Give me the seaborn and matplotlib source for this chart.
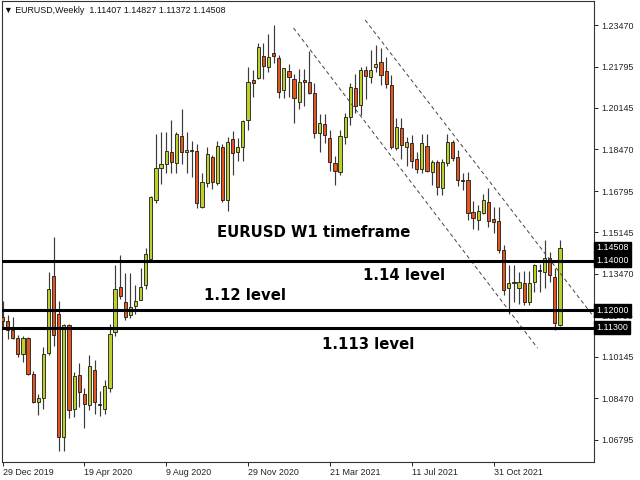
import numpy as np
import pandas as pd
import seaborn as sns
import matplotlib.pyplot as plt
import matplotlib.transforms as mtransforms

# weekly EURUSD candles, 29 Dec 2019 .. 30 Jan 2022
weeks = pd.date_range('2019-12-29', periods=110, freq='7D')

opens = [1.1175, 1.1158, 1.1121, 1.1090, 1.1025, 1.1090, 1.0944, 1.0830, 1.0847, 1.1030,
         1.1340, 1.1185, 1.0693, 1.1141, 1.0805, 1.0940, 1.0864, 1.0820, 1.0960, 1.0823,
         1.0803, 1.0888, 1.1112, 1.1294, 1.1234, 1.1182, 1.1218, 1.1242, 1.1302, 1.1407,
         1.1644, 1.1772, 1.1788, 1.1837, 1.1792, 1.1901, 1.1838, 1.1846, 1.1841, 1.1616,
         1.1712, 1.1816, 1.1712, 1.1857, 1.1644, 1.1889, 1.1837, 1.1857, 1.1965, 1.2126,
         1.2134, 1.2222, 1.2178, 1.2234, 1.2214, 1.2086, 1.2162, 1.2130, 1.2038, 1.2126,
         1.2118, 1.2074, 1.1913, 1.1949, 1.1893, 1.1792, 1.1756, 1.1897, 1.1977, 1.2094,
         1.2025, 1.2166, 1.2138, 1.2178, 1.2198, 1.2162, 1.2106, 1.1853, 1.1933, 1.1857,
         1.1873, 1.1808, 1.1768, 1.1861, 1.1756, 1.1796, 1.1692, 1.1792, 1.1877, 1.1816,
         1.1724, 1.1724, 1.1595, 1.1563, 1.1591, 1.1636, 1.1567, 1.1559, 1.1442, 1.1290,
         1.1310, 1.1290, 1.1310, 1.1234, 1.1314, 1.1364, 1.1354, 1.1410, 1.1334, 1.11407]
highs = [1.1239, 1.1180, 1.1173, 1.1100, 1.1096, 1.1095, 1.0956, 1.0865, 1.1053, 1.1355,
         1.1496, 1.1237, 1.1147, 1.1147, 1.0953, 1.0990, 1.0890, 1.1019, 1.1000, 1.0875,
         1.0920, 1.1147, 1.1384, 1.1422, 1.1350, 1.1349, 1.1303, 1.1372, 1.1452, 1.1660,
         1.1908, 1.1916, 1.1916, 1.1966, 1.1917, 1.2011, 1.1917, 1.1882, 1.1870, 1.1754,
         1.1857, 1.1825, 1.1881, 1.1870, 1.1897, 1.1921, 1.1893, 1.1965, 1.2177, 1.2167,
         1.2273, 1.2273, 1.2310, 1.2349, 1.2225, 1.2175, 1.2190, 1.2150, 1.2170, 1.2169,
         1.2243, 1.2114, 1.1990, 1.1989, 1.1925, 1.1820, 1.1927, 1.1995, 1.2115, 1.2150,
         1.2178, 1.2183, 1.2245, 1.2265, 1.2255, 1.2218, 1.2145, 1.1975, 1.1975, 1.1897,
         1.1905, 1.1835, 1.1909, 1.1908, 1.1805, 1.1805, 1.1810, 1.1909, 1.1885, 1.1845,
         1.1753, 1.1755, 1.1640, 1.1624, 1.1668, 1.1692, 1.1616, 1.1616, 1.1464, 1.1382,
         1.1383, 1.1355, 1.1360, 1.1360, 1.1386, 1.1385, 1.1483, 1.1436, 1.1370, 1.14827]
lows = [1.1125, 1.1085, 1.1086, 1.1014, 1.0992, 1.0940, 1.0827, 1.0778, 1.0805, 1.1020,
        1.1055, 1.0636, 1.0636, 1.0768, 1.0770, 1.0812, 1.0727, 1.0800, 1.0782, 1.0775,
        1.0783, 1.0870, 1.1096, 1.1245, 1.1160, 1.1168, 1.1185, 1.1240, 1.1285, 1.1400,
        1.1630, 1.1707, 1.1753, 1.1753, 1.1754, 1.1789, 1.1753, 1.1737, 1.1612, 1.1612,
        1.1697, 1.1689, 1.1703, 1.1636, 1.1600, 1.1745, 1.1800, 1.1801, 1.1925, 1.2058,
        1.2128, 1.2130, 1.2160, 1.2194, 1.2054, 1.2054, 1.2058, 1.1952, 1.2010, 1.2023,
        1.2070, 1.1894, 1.1835, 1.1873, 1.1762, 1.1704, 1.1743, 1.1870, 1.1944, 1.1995,
        1.1986, 1.2051, 1.2115, 1.2160, 1.2104, 1.2094, 1.1847, 1.1845, 1.1807, 1.1780,
        1.1772, 1.1752, 1.1752, 1.1755, 1.1705, 1.1664, 1.1665, 1.1780, 1.1802, 1.1700,
        1.1684, 1.1563, 1.1529, 1.1524, 1.1586, 1.1535, 1.1513, 1.1432, 1.1263, 1.1186,
        1.1235, 1.1227, 1.1222, 1.1222, 1.1274, 1.1272, 1.1290, 1.1315, 1.1121, 1.11372]
closes = [1.1158, 1.1121, 1.1090, 1.1025, 1.1090, 1.0944, 1.0830, 1.0847, 1.1026, 1.1284,
          1.1101, 1.0693, 1.1141, 1.0800, 1.0935, 1.0872, 1.0824, 1.0976, 1.0832, 1.0819,
          1.0896, 1.1105, 1.1286, 1.1258, 1.1174, 1.1214, 1.1238, 1.1294, 1.1427, 1.1656,
          1.1772, 1.1788, 1.1841, 1.1796, 1.1909, 1.1837, 1.1846, 1.1840, 1.1631, 1.1716,
          1.1830, 1.1716, 1.1861, 1.1644, 1.1877, 1.1833, 1.1857, 1.1961, 1.2118, 1.2114,
          1.2259, 1.2182, 1.2218, 1.2222, 1.2078, 1.2174, 1.2138, 1.2054, 1.2118, 1.2118,
          1.2074, 1.1913, 1.1953, 1.1905, 1.1796, 1.1760, 1.1901, 1.1977, 1.2098, 1.2021,
          1.2166, 1.2142, 1.2166, 1.2190, 1.2146, 1.2110, 1.1857, 1.1937, 1.1865, 1.1877,
          1.1800, 1.1768, 1.1873, 1.1760, 1.1796, 1.1696, 1.1796, 1.1877, 1.1812, 1.1724,
          1.1720, 1.1591, 1.1571, 1.1599, 1.1644, 1.1559, 1.1555, 1.1442, 1.1282, 1.1310,
          1.1313, 1.1314, 1.1234, 1.1310, 1.1382, 1.1360, 1.1410, 1.1342, 1.1149, 1.14508]

levels = [1.14, 1.12, 1.113]
level_tags = ['1.14000', '1.12000', '1.11300']
last_price = 1.14508
price_ticks = [1.23470, 1.21795, 1.20145, 1.18470, 1.16795, 1.15145,
               1.13470, 1.11795, 1.10145, 1.08470, 1.06795]
date_ticks = ['29 Dec 2019', '19 Apr 2020', '9 Aug 2020', '29 Nov 2020',
              '21 Mar 2021', '11 Jul 2021', '31 Oct 2021']

# trend channel (start/end in candle index and price)
chan_upper_x = [70.9, 115.8]
chan_upper_y = [1.2367, 1.1169]
chan_lower_x = [56.9, 104.6]
chan_lower_y = [1.2335, 1.1049]

df = pd.DataFrame({'week': weeks, 'open': opens, 'high': highs,
                   'low': lows, 'close': closes})
df['pos'] = np.arange(len(df))
df['bull'] = df['close'] >= df['open']

sns.set_style('white')
plt.rcParams['font.family'] = ['Liberation Sans', 'DejaVu Sans']

bull_col = '#bccf2a'
bear_col = '#e5561e'

fig = plt.figure(figsize=(6.4, 4.8), dpi=100)
ax = fig.add_axes([2 / 640, 18 / 480, 592 / 640, 461 / 480])

# wicks
ax.vlines(df['pos'], df['low'], df['high'], color='#3a3a3a', lw=0.85, zorder=2)
# bodies
body = (df['close'] - df['open']).abs().clip(lower=0.00012)
bottom = df[['open', 'close']].min(axis=1)
ax.bar(df['pos'], body, bottom=bottom, width=0.62,
       color=np.where(df['bull'], bull_col, bear_col),
       edgecolor='#1a1a1a', linewidth=0.6, zorder=3)

# channel lines
sns.lineplot(x=chan_upper_x, y=chan_upper_y, ax=ax, color='#444444',
             lw=0.7, linestyle=(0, (4, 3)), zorder=4)
sns.lineplot(x=chan_lower_x, y=chan_lower_y, ax=ax, color='#444444',
             lw=0.7, linestyle=(0, (4, 3)), zorder=4)

# key levels
for lv in levels:
    ax.axhline(lv, color='black', lw=2.2, zorder=5)

ax.set_xlim(-0.1, 115.65)
ax.set_ylim(1.05906, 1.24435)

# right price scale
ax.yaxis.tick_right()
ax.set_yticks(price_ticks)
ax.set_yticklabels([f'{p:.5f}' for p in price_ticks])
ax.tick_params(axis='y', direction='out', length=3, width=0.7, pad=2,
               labelsize=6.4, colors='#222222', right=True, left=False)

tick_pos = weeks.get_indexer(pd.to_datetime(date_ticks, format='%d %b %Y'))
ax.set_xticks(tick_pos)
ax.set_xticklabels(date_ticks, ha='left')
ax.tick_params(axis='x', direction='out', length=3, width=0.7, pad=1,
               labelsize=6.4, colors='#222222', bottom=True)

for sp in ax.spines.values():
    sp.set_color('#333333')
    sp.set_linewidth(0.8)

# price tags on the scale
trans = mtransforms.blended_transform_factory(ax.transAxes, ax.transData)
for lv, tag in zip([last_price] + levels, ['1.14508'] + level_tags):
    ax.text(1.004, lv, tag, transform=trans, ha='left', va='center',
            fontsize=6.4, color='white', zorder=10, clip_on=False,
            bbox=dict(boxstyle='square,pad=0.22', facecolor='black',
                      edgecolor='black'))

# header
ax.text(0.004, 1 - 12 / 461, '\u25bc EURUSD,Weekly  1.11407 1.14827 1.11372 1.14508',
        transform=ax.transAxes, fontsize=6.4, color='#111111', va='baseline')

# annotations
bold = dict(family='DejaVu Sans', fontweight='bold', fontsize=10.7,
            color='black', va='baseline', ha='left', zorder=6)
ax.text(42.0, 1.14949, 'EURUSD W1 timeframe', **bold)
ax.text(70.4, 1.13221, '1.14 level', **bold)
ax.text(39.3, 1.12417, '1.12 level', **bold)
ax.text(62.4, 1.10447, '1.113 level', **bold)

ax.set_xlabel('')
ax.set_ylabel('')
fig.savefig('out.png', dpi=100)
